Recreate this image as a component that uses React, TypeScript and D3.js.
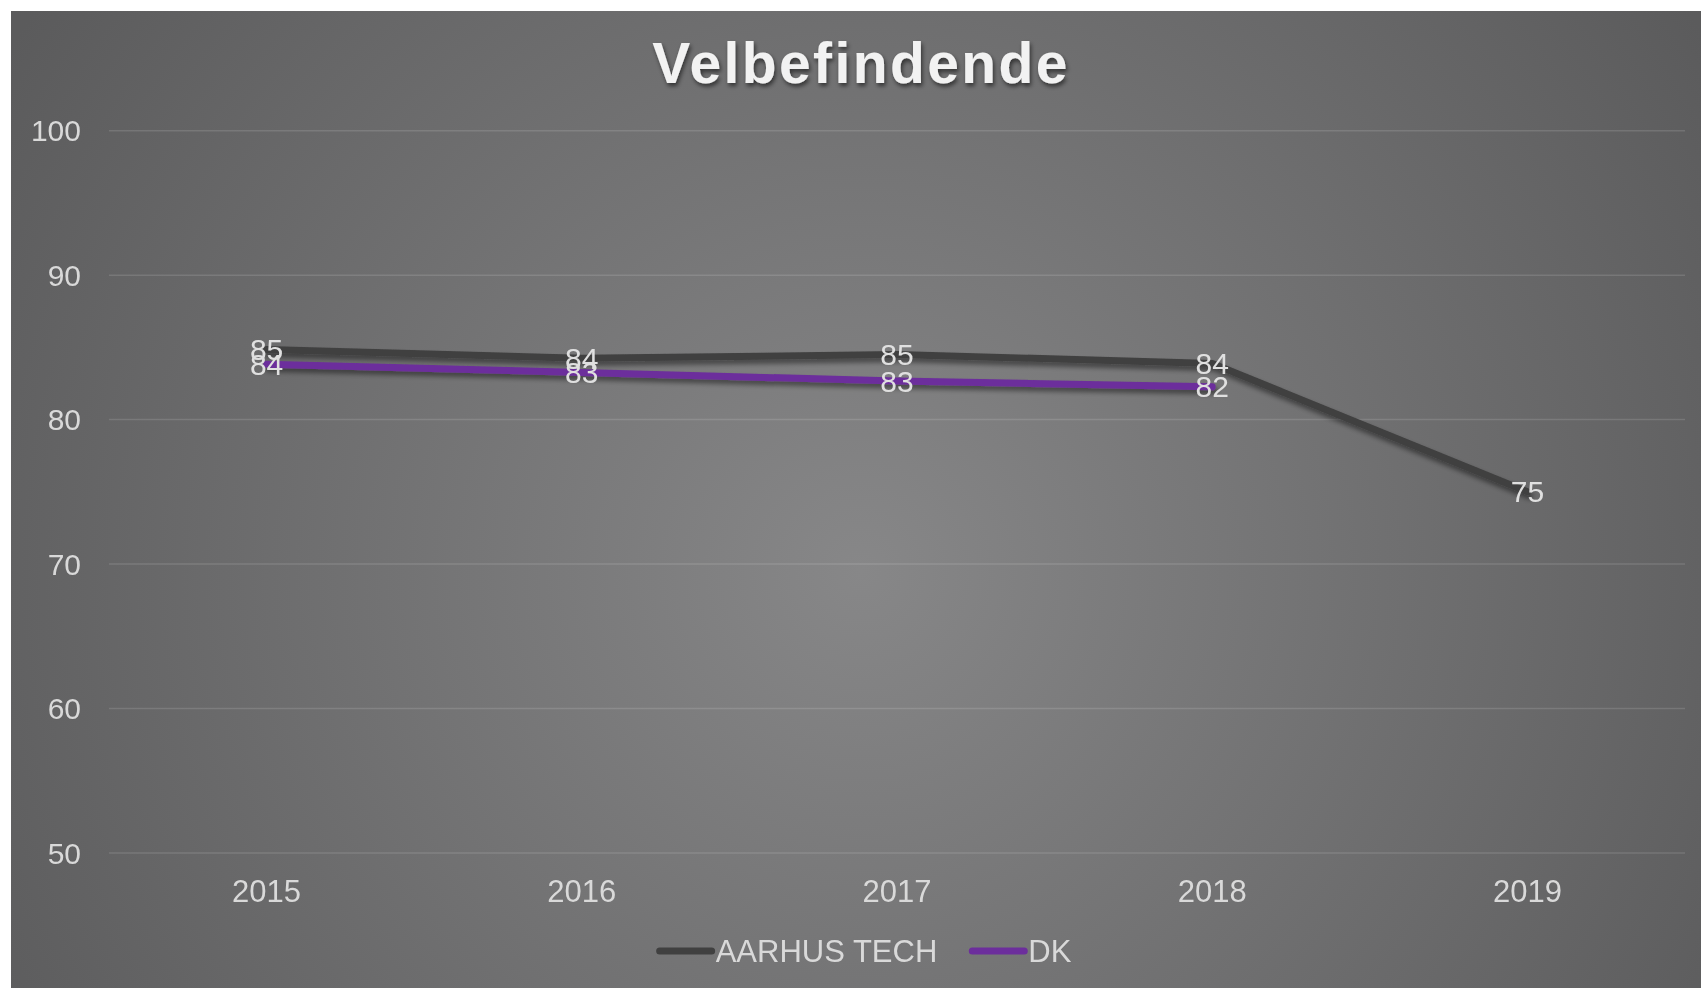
import { useEffect, useRef } from "react";
import { select, scaleBand, scaleLinear, line } from "d3";

// chart data
const YEARS = ["2015", "2016", "2017", "2018", "2019"];
const AARHUS_TECH = [84.86, 84.24, 84.51, 83.89, 75.0];
const DK = [83.84, 83.27, 82.67, 82.27];
const Y_TICKS = [50, 60, 70, 80, 90, 100];
const SERIES_NAMES = ["AARHUS TECH", "DK"];
const SERIES_COLORS = ["#404040", "#6c2e9c"];
const TITLE = "Velbefindende";

const WIDTH = 1690;
const HEIGHT = 977;
const FONT = "'Liberation Sans', Arial, sans-serif";

export default function App() {
  const ref = useRef<SVGSVGElement | null>(null);

  useEffect(() => {
    const svg = select(ref.current);
    svg.selectAll("*").remove();

    const defs = svg.append("defs");
    const grad = defs
      .append("radialGradient")
      .attr("id", "bg")
      .attr("gradientUnits", "userSpaceOnUse")
      .attr("cx", 850)
      .attr("cy", 560)
      .attr("r", 1000);
    grad.append("stop").attr("offset", "0%").attr("stop-color", "#878788");
    grad.append("stop").attr("offset", "100%").attr("stop-color", "#5b5b5c");

    defs
      .append("filter")
      .attr("id", "lineShadow")
      .attr("x", "-10%")
      .attr("y", "-50%")
      .attr("width", "120%")
      .attr("height", "200%")
      .append("feDropShadow")
      .attr("dx", 2)
      .attr("dy", 4)
      .attr("stdDeviation", 2.5)
      .attr("flood-color", "#000")
      .attr("flood-opacity", 0.45);

    defs
      .append("filter")
      .attr("id", "titleShadow")
      .append("feDropShadow")
      .attr("dx", 1.5)
      .attr("dy", 3)
      .attr("stdDeviation", 2)
      .attr("flood-color", "#000")
      .attr("flood-opacity", 0.55);

    svg.append("rect").attr("width", WIDTH).attr("height", HEIGHT).attr("fill", "url(#bg)");

    const x = scaleBand<string>().domain(YEARS).range([98, 1674]);
    const y = scaleLinear().domain([50, 100]).range([842, 119.7]);
    const cx = (d: string) => (x(d) ?? 0) + x.bandwidth() / 2;

    // gridlines
    svg
      .append("g")
      .selectAll("line")
      .data(Y_TICKS)
      .join("line")
      .attr("x1", 98)
      .attr("x2", 1674)
      .attr("y1", (d) => y(d))
      .attr("y2", (d) => y(d))
      .attr("stroke", "#ffffff")
      .attr("stroke-opacity", 0.13)
      .attr("stroke-width", 1.5);

    // y labels
    svg
      .append("g")
      .selectAll("text")
      .data(Y_TICKS)
      .join("text")
      .attr("x", 70)
      .attr("y", (d) => y(d))
      .attr("dy", "0.35em")
      .attr("text-anchor", "end")
      .style("font", `30px ${FONT}`)
      .attr("fill", "#d9d9d9")
      .text((d) => d);

    // x labels
    svg
      .append("g")
      .selectAll("text")
      .data(YEARS)
      .join("text")
      .attr("x", cx)
      .attr("y", 891)
      .attr("text-anchor", "middle")
      .style("font", `31px ${FONT}`)
      .attr("fill", "#d9d9d9")
      .text((d) => d);

    // title
    svg
      .append("text")
      .attr("x", 850)
      .attr("y", 72)
      .attr("text-anchor", "middle")
      .style("font", `bold 57px ${FONT}`)
      .style("letter-spacing", "2.4px")
      .attr("fill", "#f2f2f2")
      .attr("filter", "url(#titleShadow)")
      .text(TITLE);

    const seriesData = [AARHUS_TECH, DK];
    const lineGen = line<number>()
      .x((_, i) => cx(YEARS[i]))
      .y((d) => y(d));

    seriesData.forEach((vals, s) => {
      svg
        .append("path")
        .attr("d", lineGen(vals))
        .attr("fill", "none")
        .attr("stroke", SERIES_COLORS[s])
        .attr("stroke-width", 7)
        .attr("stroke-linejoin", "round")
        .attr("stroke-linecap", "round")
        .attr("filter", "url(#lineShadow)");
    });

    // data labels sit centred on the points (they overlap like in the original)
    seriesData.forEach((vals) => {
      svg
        .append("g")
        .selectAll("text")
        .data(vals)
        .join("text")
        .attr("x", (_, i) => cx(YEARS[i]))
        .attr("y", (d) => y(d))
        .attr("dy", "0.35em")
        .attr("text-anchor", "middle")
        .style("font", `30px ${FONT}`)
        .attr("fill", "#e0e0e0")
        .text((d) => Math.round(d));
    });

    // legend - measure then center
    const legend = svg.append("g");
    let pos = 0;
    SERIES_NAMES.forEach((name, i) => {
      if (i > 0) pos += 32;
      legend
        .append("line")
        .attr("x1", pos + 3)
        .attr("x2", pos + 55)
        .attr("y1", 0)
        .attr("y2", 0)
        .attr("stroke", SERIES_COLORS[i])
        .attr("stroke-width", 7)
        .attr("stroke-linecap", "round");
      const t = legend
        .append("text")
        .attr("x", pos + 59)
        .attr("y", 0)
        .attr("dy", "0.35em")
        .style("font", `31px ${FONT}`)
        .attr("fill", "#d9d9d9")
        .text(name);
      pos += 59 + (t.node() as SVGTextElement).getComputedTextLength();
    });
    legend.attr("transform", `translate(${853 - pos / 2},940)`);
  }, []);

  return (
    <div style={{ position: "fixed", left: 11, top: 11 }}>
      <svg ref={ref} width={WIDTH} height={HEIGHT} style={{ display: "block" }} />
    </div>
  );
}
